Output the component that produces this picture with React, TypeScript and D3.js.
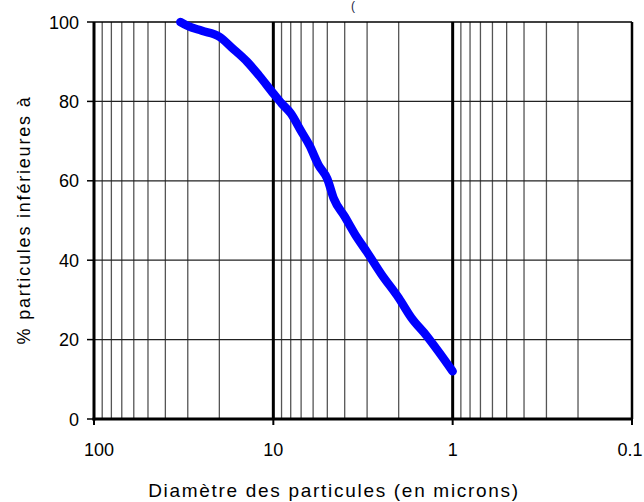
import React from "react";
import * as d3 from "d3";

const diameters = [33, 30, 25, 20, 17, 14, 12, 10, 9, 8, 7, 6.3, 5.6, 5, 4.6, 4, 3.5, 3, 2.5, 2, 1.7, 1.4, 1.2, 1];
const percents = [100, 99, 97.8, 96.3, 93.5, 90, 86.5, 82, 79.5, 77, 72.5, 69, 64, 60.5, 55.5, 51, 46.5, 42, 36.5, 30.5, 25.5, 21, 17, 12];
const xTicks = [100, 10, 1, 0.1];
const xTickLabels = ["100", "10", "1", "0.1"];
const yTicks = [0, 20, 40, 60, 80, 100];

const W = 644, H = 502;
const L = 94, R = 632, T = 22, B = 419;
const FONT = "'Liberation Sans', Arial, sans-serif";

export default function App() {
  const x = d3.scaleLog().domain([100, 0.1]).range([L, R]);
  const y = d3.scaleLinear().domain([0, 100]).range([B, T]);
  const minors: number[] = [];
  [10, 1, 0.1].forEach((dec) => {
    for (let k = 2; k <= 9; k++) minors.push(dec * k);
  });
  const pts = diameters.map((d, i) => [x(d), y(percents[i])] as [number, number]);
  const line = d3.line().curve(d3.curveMonotoneX)(pts) || "";
  return (
    <svg width={W} height={H} style={{ position: "absolute", left: 0, top: 0, background: "#fff" }}>
      <rect x={0} y={0} width={W} height={H} fill="#fff" />
      <text x={353} y={10} fontFamily={FONT} fontSize={12} fill="#224" textAnchor="middle">(</text>
      {minors.map((m, i) => (
        <line key={"m" + i} x1={x(m)} x2={x(m)} y1={T} y2={B} stroke="#555" strokeWidth={1.3} />
      ))}
      {yTicks.slice(1, 5).map((v) => (
        <line key={"h" + v} x1={L} x2={R} y1={y(v)} y2={y(v)} stroke="#222" strokeWidth={1.2} />
      ))}
      <line x1={L} x2={R} y1={T} y2={T} stroke="#000" strokeWidth={1.5} />
      {xTicks.slice(1, 3).map((v) => (
        <line key={"d" + v} x1={x(v)} x2={x(v)} y1={T} y2={B} stroke="#000" strokeWidth={3} />
      ))}
      <line x1={R} x2={R} y1={T} y2={B} stroke="#000" strokeWidth={2.5} />
      <line x1={L} x2={L} y1={T} y2={B + 1.5} stroke="#000" strokeWidth={3} />
      <line x1={L - 1.5} x2={R + 1} y1={B} y2={B} stroke="#000" strokeWidth={3} />
      {yTicks.map((v) => (
        <g key={"yt" + v}>
          <line x1={L - 7} x2={L} y1={y(v)} y2={y(v)} stroke="#000" strokeWidth={1.5} />
          <text x={L - 15} y={y(v) + 6.5} fontFamily={FONT} fontSize={18} textAnchor="end" fill="#000">{v}</text>
        </g>
      ))}
      {xTicks.map((v, i) => (
        <g key={"xt" + v}>
          <line x1={x(v)} x2={x(v)} y1={B} y2={B + 6} stroke="#000" strokeWidth={2} />
          <text x={x(v) + (i === 0 ? 5 : i === 3 ? -2 : 0)} y={456} fontFamily={FONT} fontSize={18} textAnchor="middle" fill="#000">{xTickLabels[i]}</text>
        </g>
      ))}
      <path d={line} fill="none" stroke="#0000ff" strokeWidth={8.5} strokeLinecap="round" strokeLinejoin="round" />
      <text x={334} y={497} fontFamily={FONT} fontSize={19} letterSpacing={1.7} textAnchor="middle" fill="#000">Diamètre des particules (en microns)</text>
      <text transform={`translate(30,220) rotate(-90)`} fontFamily={FONT} fontSize={18} letterSpacing={1.8} textAnchor="middle" fill="#000">% particules inférieures à</text>
    </svg>
  );
}
